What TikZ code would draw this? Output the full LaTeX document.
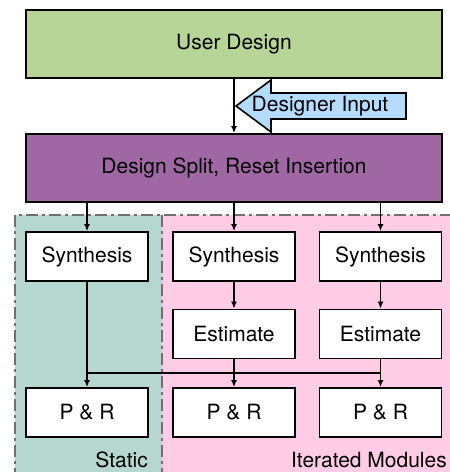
\documentclass[tikz,border=0pt]{standalone}
\usepackage{fontspec}
\setmainfont{TeX Gyre Heros}
\usetikzlibrary{arrows.meta}
\definecolor{cgreen}{HTML}{B6D596}
\definecolor{cpurple}{HTML}{A067A5}
\definecolor{cteal}{HTML}{B6D7CF}
\definecolor{cpink}{HTML}{FFCCE6}
\definecolor{cblue}{HTML}{B4DCFF}
\definecolor{cdash}{HTML}{707070}
\begin{document}
\begin{tikzpicture}[x=1pt,y=-1pt,
  txt/.style={font=\fontsize{21}{25}\selectfont},
  box/.style={draw, line width=1.8pt, fill=white, txt, inner sep=0pt},
  bigbox/.style={box, minimum width=416pt, minimum height=68pt},
  smallbox/.style={box, minimum width=122pt, minimum height=49pt},
  conn/.style={line width=1.6pt, -{Latex[length=7pt,width=6pt]}},
  plain/.style={line width=1.6pt},
  region/.style={draw=cdash, line width=2pt, dash pattern=on 12pt off 4pt on 3pt off 4pt}]
\useasboundingbox (0,0) rectangle (450,472);
\clip (0,0) rectangle (450,472);
% regions
\fill[cteal] (15,215) rectangle (162,480);
\fill[cpink] (162,215) rectangle (460,480);
\draw[region] (15,480) -- (15,215) -- (460,215);
\draw[region] (162,215) -- (162,480);
% boxes
\node[bigbox, fill=cgreen] (ud) at (234,44) {User Design};
\node[bigbox, fill=cpurple] (split) at (234,168) {Design Split, Reset Insertion};
\node[smallbox] (s1) at (87,256.5) {Synthesis};
\node[smallbox] (s2) at (234,256.5) {Synthesis};
\node[smallbox] (s3) at (380.5,256.5) {Synthesis};
\node[smallbox] (e2) at (234,334) {Estimate};
\node[smallbox] (e3) at (380.5,334) {Estimate};
\node[smallbox] (p1) at (87,412.5) {P \& R};
\node[smallbox] (p2) at (234,412.5) {P \& R};
\node[smallbox] (p3) at (380.5,412.5) {P \& R};
% designer input arrow
\draw[line width=1.6pt, fill=cblue, line join=miter]
  (236,106) -- (271,80) -- (271,93) -- (406,93) -- (406,119) -- (271,119) -- (271,132) -- cycle;
\node[txt, inner sep=0pt] (din) at (320,106) {Designer Input};
% connectors
\draw[conn] (ud.south) -- (split.north);
\draw[conn] (split.south -| s1) -- (s1.north);
\draw[conn] (split.south -| s2) -- (s2.north);
\draw[conn] (split.south -| s3) -- (s3.north);
\draw[conn] (s2.south) -- (e2.north);
\draw[conn] (s3.south) -- (e3.north);
\coordinate (j) at (0,373);
\draw[conn] (s1.south) -- (p1.north);
\draw[plain] (e2.south) -- (e2.south |- j);
\draw[plain] (e3.south) -- (e3.south |- j);
\draw[plain] (s1.south |- j) -- (e3.south |- j);
\draw[conn] (e2.south |- j) -- (p2.north);
\draw[conn] (e3.south |- j) -- (p3.north);
% region labels
\node[txt, anchor=base east, inner sep=0pt] (lstatic) at (148,467) {Static};
\node[txt, anchor=base east, inner sep=0pt] (literated) at (447,467) {Iterated Modules};
\end{tikzpicture}
\end{document}
